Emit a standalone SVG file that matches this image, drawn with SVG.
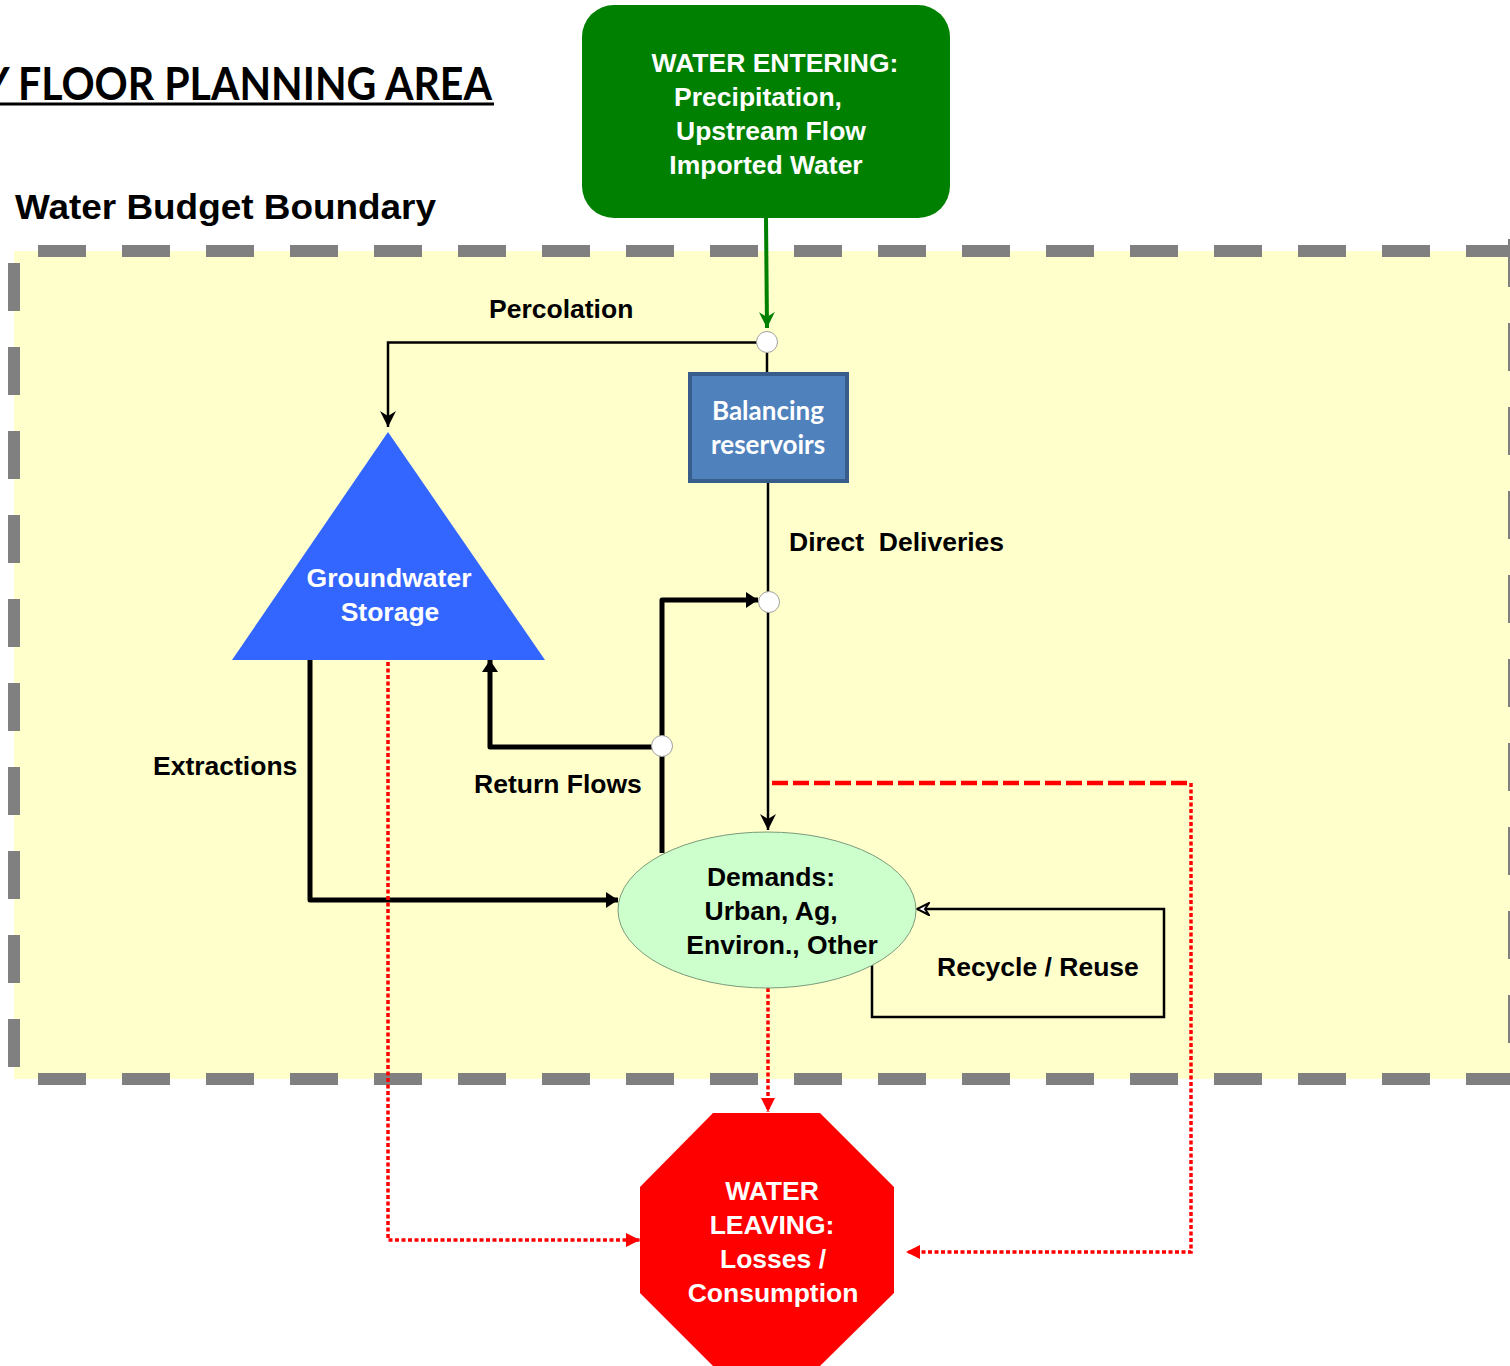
<svg xmlns="http://www.w3.org/2000/svg" width="1510" height="1366" viewBox="0 0 1510 1366">
<style>
.lbl{font-family:"Liberation Sans",Arial,sans-serif;font-weight:bold;font-size:26.5px;fill:#000;white-space:pre}
.wl{font-family:"Liberation Sans",Arial,sans-serif;font-weight:bold;font-size:26.5px;fill:#fff;text-anchor:middle}
.cal{font-family:Lato,"Open Sans",sans-serif;font-weight:bold}
.bd{stroke:#808080;stroke-width:12;stroke-dasharray:48 36;fill:none}
.thin{fill:none;stroke:#000;stroke-width:2.5}
.thick{fill:none;stroke:#000;stroke-width:5;stroke-linejoin:round}
.rdot{fill:none;stroke:#ff0000;stroke-width:3.5;stroke-dasharray:4 2.5}
.rdash{fill:none;stroke:#ff0000;stroke-width:4.3;stroke-dasharray:16 5}
.jn{fill:#fff;stroke:#a0a0a0;stroke-width:1}
</style>
<defs>
<marker id="aThin" viewBox="0 0 16 16" refX="16" refY="8" markerWidth="16" markerHeight="16" markerUnits="userSpaceOnUse" orient="auto">
<path d="M0,0 L16,8 L0,16 L5,8 z" fill="#000"/>
</marker>
<marker id="aGreen" viewBox="0 0 16 16" refX="16" refY="8" markerWidth="16" markerHeight="16" markerUnits="userSpaceOnUse" orient="auto">
<path d="M0,0 L16,8 L0,16 L5,8 z" fill="#008000"/>
</marker>
<marker id="aThick" viewBox="0 0 12 16" refX="12" refY="8" markerWidth="12" markerHeight="16" markerUnits="userSpaceOnUse" orient="auto">
<path d="M0,0 L12,8 L0,16 z" fill="#000"/>
</marker>
<marker id="aOpen" viewBox="0 0 14 14" refX="13" refY="7" markerWidth="14" markerHeight="14" markerUnits="userSpaceOnUse" orient="auto">
<path d="M1,1 L13,7 L1,13 L5,7 z" fill="#fff" stroke="#000" stroke-width="2" stroke-linejoin="miter"/>
</marker>
<marker id="aRed" viewBox="0 0 14 14" refX="14" refY="7" markerWidth="14" markerHeight="14" markerUnits="userSpaceOnUse" orient="auto">
<path d="M0,0 L14,7 L0,14 z" fill="#ff0000"/>
</marker>
</defs>

<rect width="1510" height="1366" fill="#fff"/>

<g id="title">
<text class="cal" x="-17" y="100" font-size="46" textLength="509" lengthAdjust="spacingAndGlyphs">Y FLOOR PLANNING AREA</text>
<line x1="0" y1="104" x2="494" y2="104" stroke="#000" stroke-width="3"/>
</g>

<g id="boundary">
<rect x="14" y="251" width="1496" height="828" fill="#ffffcc"/>
<line class="bd" x1="38" y1="251" x2="1510" y2="251"/>
<line class="bd" x1="38" y1="1079" x2="1510" y2="1079"/>
<line class="bd" x1="14" y1="263" x2="14" y2="1070"/>
<line class="bd" x1="1514" y1="239" x2="1514" y2="1070"/>
<text class="lbl" x="15" y="219" font-size="35" textLength="421" lengthAdjust="spacingAndGlyphs" style="font-size:35px">Water Budget Boundary</text>
</g>

<g id="connectors">
<path d="M766,218 L767,328" fill="none" stroke="#008000" stroke-width="4" marker-end="url(#aGreen)"/>
<path class="thin" d="M757,342.5 H388 V427" marker-end="url(#aThin)"/>
<path class="thin" d="M767,353 V372"/>
<path class="thin" d="M768,483 V830" marker-end="url(#aThin)"/>
<path class="thick" d="M662,740 V600 H758" marker-end="url(#aThick)"/>
<path class="thick" d="M655,747 H490 V660" marker-end="url(#aThick)"/>
<path class="thick" d="M662,752 V853"/>
<path class="thick" d="M310,658 V900 H618" marker-end="url(#aThick)"/>
<path class="rdot" d="M388,662 V1240 H640" marker-end="url(#aRed)"/>
<path class="rdash" d="M772,783 H1191"/>
<path class="rdot" d="M1191,783 V1252 H906" marker-end="url(#aRed)"/>
<path class="rdot" d="M768,988 V1112" marker-end="url(#aRed)"/>
<path class="thin" d="M872,965 V1017 H1164 V909 H917" marker-end="url(#aOpen)"/>
</g>

<g id="labels">
<text class="lbl" x="489" y="318">Percolation</text>
<text class="lbl" x="789" y="551" xml:space="preserve">Direct  Deliveries</text>
<text class="lbl" x="153" y="775">Extractions</text>
<text class="lbl" x="474" y="793">Return Flows</text>
<text class="lbl" x="937" y="976">Recycle / Reuse</text>
</g>

<g id="water-entering">
<rect x="582" y="5" width="368" height="213" rx="32" ry="32" fill="#008000"/>
<text class="wl" x="775" y="72">WATER ENTERING:</text>
<text class="wl" x="758" y="106">Precipitation,</text>
<text class="wl" x="771" y="140">Upstream Flow</text>
<text class="wl" x="766" y="174">Imported Water</text>
</g>

<g id="junction-1"><circle class="jn" cx="767" cy="342" r="10.5"/></g>
<g id="junction-2"><circle class="jn" cx="769" cy="602" r="10.5"/></g>
<g id="junction-3"><circle class="jn" cx="662" cy="746" r="10.5"/></g>

<g id="balancing-reservoirs">
<rect x="690" y="374" width="157" height="107" fill="#4f81bd" stroke="#385d8a" stroke-width="4"/>
<text class="cal" x="768" y="420" font-size="26" fill="#fff" text-anchor="middle">Balancing</text>
<text class="cal" x="768" y="454" font-size="26" fill="#fff" text-anchor="middle">reservoirs</text>
</g>

<g id="groundwater-storage">
<polygon points="388,432 232,660 545,660" fill="#3366ff"/>
<text class="wl" x="389" y="587">Groundwater</text>
<text class="wl" x="390" y="621">Storage</text>
</g>

<g id="demands">
<ellipse cx="767" cy="910" rx="149" ry="78" fill="#ccffcc" stroke="#7a9a7a" stroke-width="1"/>
<text class="lbl" x="771" y="886" text-anchor="middle">Demands:</text>
<text class="lbl" x="771" y="920" text-anchor="middle">Urban, Ag,</text>
<text class="lbl" x="782" y="954" text-anchor="middle">Environ., Other</text>
</g>

<g id="water-leaving">
<polygon points="713,1113 820,1113 894,1187 894,1293 820,1366 713,1366 640,1293 640,1187" fill="#ff0000"/>
<text class="wl" x="772" y="1200">WATER</text>
<text class="wl" x="772" y="1234">LEAVING:</text>
<text class="wl" x="773" y="1268">Losses /</text>
<text class="wl" x="773" y="1302">Consumption</text>
</g>
</svg>
